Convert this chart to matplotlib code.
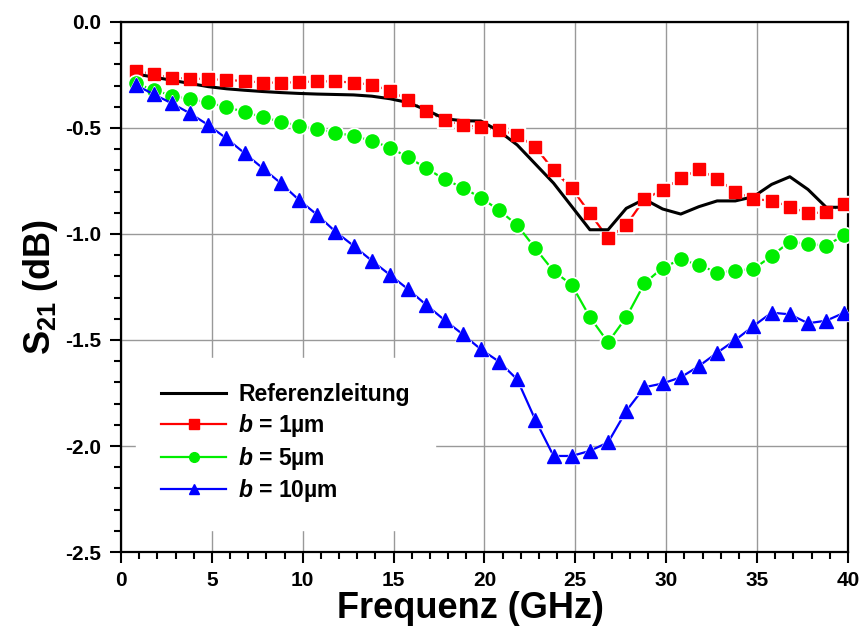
import numpy as np
import matplotlib.pyplot as plt
from matplotlib.ticker import MultipleLocator

plt.rcParams['font.family'] = ['Liberation Sans', 'DejaVu Sans']
plt.rcParams['font.weight'] = 'bold'
plt.rcParams['mathtext.fontset'] = 'custom'
plt.rcParams['mathtext.rm'] = 'Liberation Sans:bold'
plt.rcParams['mathtext.bf'] = 'Liberation Sans:bold'
plt.rcParams['mathtext.it'] = 'Liberation Sans:italic:bold'

# Frequency points (GHz)
freq = np.arange(40) + 0.8

# S21 (dB)
s21_ref = [-0.245, -0.26, -0.275, -0.29, -0.305, -0.315, -0.322, -0.328, -0.333, -0.337,
           -0.34, -0.342, -0.344, -0.35, -0.362, -0.38, -0.415, -0.456, -0.466, -0.467,
           -0.515, -0.58, -0.67, -0.76, -0.87, -0.98, -0.98, -0.879, -0.836, -0.882,
           -0.906, -0.871, -0.844, -0.844, -0.824, -0.766, -0.73, -0.79, -0.874, -0.874]
s21_b1 = [-0.23, -0.247, -0.263, -0.267, -0.269, -0.274, -0.278, -0.286, -0.286, -0.284,
          -0.28, -0.28, -0.286, -0.296, -0.324, -0.368, -0.42, -0.462, -0.487, -0.494,
          -0.509, -0.533, -0.591, -0.698, -0.785, -0.902, -1.02, -0.958, -0.836, -0.792,
          -0.737, -0.695, -0.74, -0.8, -0.835, -0.843, -0.871, -0.902, -0.898, -0.858]
s21_b5 = [-0.289, -0.321, -0.347, -0.365, -0.379, -0.403, -0.423, -0.45, -0.47, -0.49,
          -0.506, -0.522, -0.538, -0.56, -0.593, -0.638, -0.69, -0.742, -0.781, -0.829,
          -0.888, -0.958, -1.068, -1.175, -1.24, -1.392, -1.511, -1.393, -1.233, -1.159,
          -1.12, -1.146, -1.182, -1.173, -1.165, -1.104, -1.036, -1.047, -1.055, -1.005]
s21_b10 = [-0.297, -0.341, -0.384, -0.431, -0.486, -0.549, -0.619, -0.69, -0.761, -0.84,
           -0.91, -0.989, -1.056, -1.126, -1.193, -1.261, -1.335, -1.406, -1.473, -1.544,
           -1.602, -1.686, -1.877, -2.047, -2.047, -2.023, -1.983, -1.835, -1.723, -1.705,
           -1.676, -1.623, -1.56, -1.5, -1.434, -1.371, -1.379, -1.421, -1.409, -1.371]

labels = ['Referenzleitung', r'$b$ = 1µm', r'$b$ = 5µm', r'$b$ = 10µm']

fig = plt.figure(figsize=(8.63, 6.30), dpi=100)
ax = fig.add_axes([0.1402, 0.1238, 0.8424, 0.8413])

# black reference sits above the red gaps but under the red symbols
ax.plot(freq, s21_ref, color='black', lw=2.2, label=labels[0], zorder=4.15)

# coloured series: line, white gap around symbols (Origin style), symbols
series = [(s21_b1, '#FF0000', 's', 8.5, labels[1]),
          (s21_b5, '#00EE00', 'o', 9.5, labels[2]),
          (s21_b10, '#0000FF', '^', 9.5, labels[3])]
z = 4
for y, c, m, ms, lab in series:
    ax.plot(freq, y, color=c, lw=1.6, marker=m, ms=ms, label=lab, zorder=z)
    ax.plot(freq, y, ls='none', marker=m, ms=ms + 2.5, color='white', zorder=z + 0.1)
    ax.plot(freq, y, ls='none', marker=m, ms=ms, color=c, zorder=z + 0.2)
    z += 1

ax.set_xlim(0, 40)
ax.set_ylim(-2.5, 0)
ax.xaxis.set_major_locator(MultipleLocator(5))
ax.xaxis.set_minor_locator(MultipleLocator(1))
ax.yaxis.set_major_locator(MultipleLocator(0.5))
ax.yaxis.set_minor_locator(MultipleLocator(0.1))
ax.yaxis.set_major_formatter(plt.FormatStrFormatter('%.1f'))
ax.tick_params(which='major', direction='out', length=8, width=1.5, labelsize=15, pad=6)
ax.tick_params(which='minor', direction='out', length=5, width=1.5)
ax.grid(True, which='major', color='#999999', lw=1.0)
ax.set_axisbelow(True)
for s in ax.spines.values():
    s.set_linewidth(1.6)

ax.set_xlabel('Frequenz (GHz)', fontsize=26, fontweight='bold')
ax.xaxis.set_label_coords(0.48, -0.073)
ax.set_ylabel(r'S$_{\mathbf{21}}$ (dB)', fontsize=26, fontweight='bold', labelpad=4)

leg = ax.legend(loc='upper left', bbox_to_anchor=(0.0206, 0.366), borderaxespad=0,
                fontsize=16.5, handlelength=2.84, handletextpad=0.52, labelspacing=0.25,
                borderpad=1.1, frameon=True, fancybox=False)
leg.get_frame().set_facecolor('white')
leg.get_frame().set_edgecolor('white')
leg.get_frame().set_alpha(1.0)
leg.set_zorder(10)
for h in leg.legend_handles[1:]:
    h.set_markersize(7)

fig.savefig('out.png', dpi=100)
